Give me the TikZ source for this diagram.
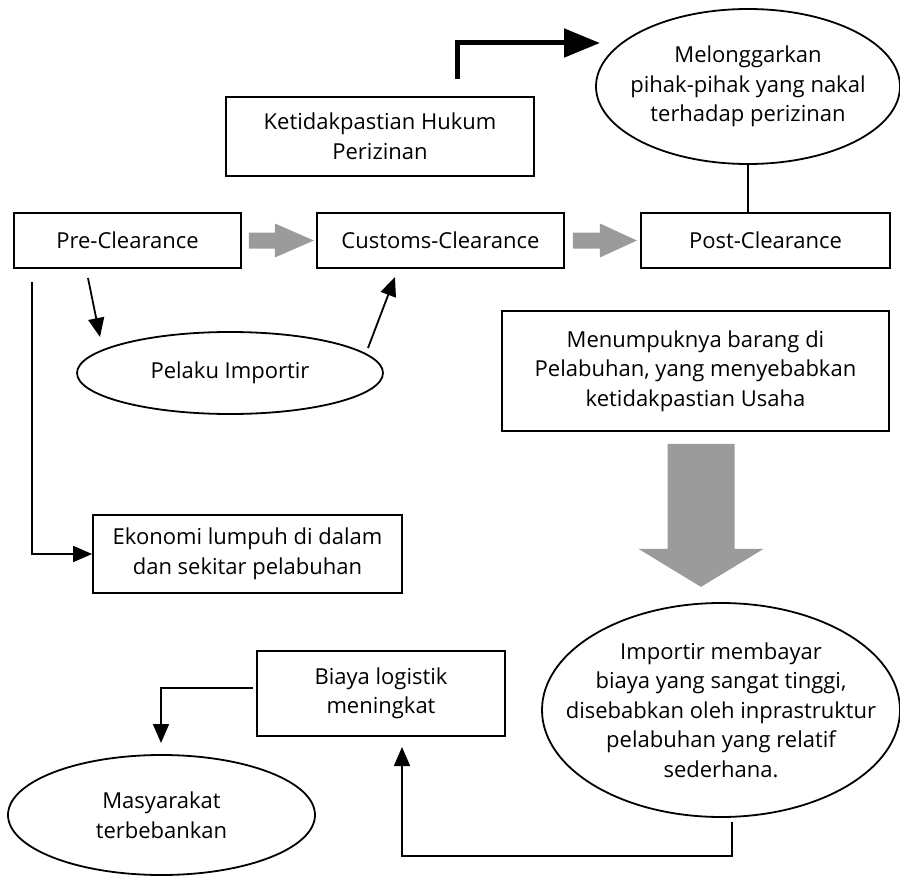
\documentclass[tikz,border=0pt]{standalone}
\usepackage{fontspec}
\setmainfont{Open Sans}
\usetikzlibrary{shapes.geometric,arrows.meta}
\definecolor{blockgray}{HTML}{9B9B9B}
\begin{document}
\begin{tikzpicture}[x=1pt,y=-1pt,
  every node/.style={font=\fontsize{22}{29.5}\selectfont, align=center, inner sep=0pt},
  box/.style={draw, line width=1.8pt, rectangle},
  oval/.style={draw, line width=1.8pt, ellipse},
  link/.style={line width=1.8pt, -{Triangle[length=19pt,width=16pt]}},
  plain/.style={line width=1.8pt},
  bold/.style={line width=5pt, -{Triangle[length=36pt,width=28pt]}},
  block/.style={fill=blockgray, draw=none}]
\useasboundingbox (0,0) rectangle (900,880);

% process boxes
\node[box, minimum width=227pt, minimum height=55pt] (pre) at (127.5,240.5) {Pre-Clearance};
\node[box, minimum width=247pt, minimum height=55pt] (cust) at (440.5,240.5) {Customs-Clearance};
\node[box, minimum width=249pt, minimum height=55pt] (post) at (765.5,240.5) {Post-Clearance};
\node[box, minimum width=308pt, minimum height=79pt] (keti) at (380,136.5) {Ketidakpastian Hukum\\Perizinan};
\node[oval, inner xsep=-20pt, minimum width=304pt, minimum height=155pt] (melo) at (748,86.5) {Melonggarkan\\pihak-pihak yang nakal\\terhadap perizinan};
\node[oval, minimum width=306pt, minimum height=82pt] (pelaku) at (230,373) {Pelaku Importir};
\node[box, minimum width=309pt, minimum height=78pt] (ekon) at (247.5,554) {Ekonomi lumpuh di dalam\\dan sekitar pelabuhan};
\node[box, minimum width=387pt, minimum height=120pt] (menum) at (695.5,371) {Menumpuknya barang di\\Pelabuhan, yang menyebabkan\\ketidakpastian Usaha};
\node[box, minimum width=248pt, minimum height=85pt] (biaya) at (381,693.5) {Biaya logistik\\meningkat};
\node[oval, minimum width=307pt, minimum height=120pt] (masy) at (161.5,815) {Masyarakat\\terbebankan};
\node[oval, inner xsep=-35pt, inner ysep=-5pt, minimum width=358pt, minimum height=214pt] (impor) at (721,710) {Importir membayar\\biaya yang sangat tinggi,\\disebabkan oleh inprastruktur\\pelabuhan yang relatif\\sederhana.};

% free ends of connectors
\coordinate (ketiUp) at (457,79);
\coordinate (meloIn) at (600,43);
\coordinate (preOut) at (88,278);
\coordinate (pelakuIn) at (100,337);
\coordinate (pelakuOut) at (368,348);
\coordinate (custIn) at (395,277);
\coordinate (preDown) at (32,282);
\coordinate (biayaOut) at (253,688);
\coordinate (masyIn) at (161,743);
\coordinate (imporOut) at (732,822);
\coordinate (biayaIn) at (402,747);

% gray block arrows between the stages
\fill[block] (pre.east) ++(7,-8) -- ++(26,0) -- ++(0,-9) -- ++(39,17) -- ++(-39,17) -- ++(0,-9) -- ++(-26,0) -- cycle;
\fill[block] (cust.east) ++(8,-8) -- ++(27,0) -- ++(0,-9) -- ++(37,17) -- ++(-37,17) -- ++(0,-9) -- ++(-27,0) -- cycle;
\fill[block] (menum.south) ++(39,12) -- ++(0,105) -- ++(29,0) -- ++(-62.5,38) -- ++(-62.5,-38) -- ++(29,0) -- ++(0,-105) -- cycle;

% connectors
\draw[bold] (ketiUp) |- (meloIn);
\draw[plain] (melo.south) -- (melo.south |- post.north);
\draw[link] (preOut) -- (pelakuIn);
\draw[link] (pelakuOut) -- (custIn);
\draw[link] (preDown) |- (ekon.west);
\draw[link] (biayaOut) -| (masyIn);
\draw[link] (imporOut) -- ++(0,34) -| (biayaIn);
\end{tikzpicture}
\end{document}
